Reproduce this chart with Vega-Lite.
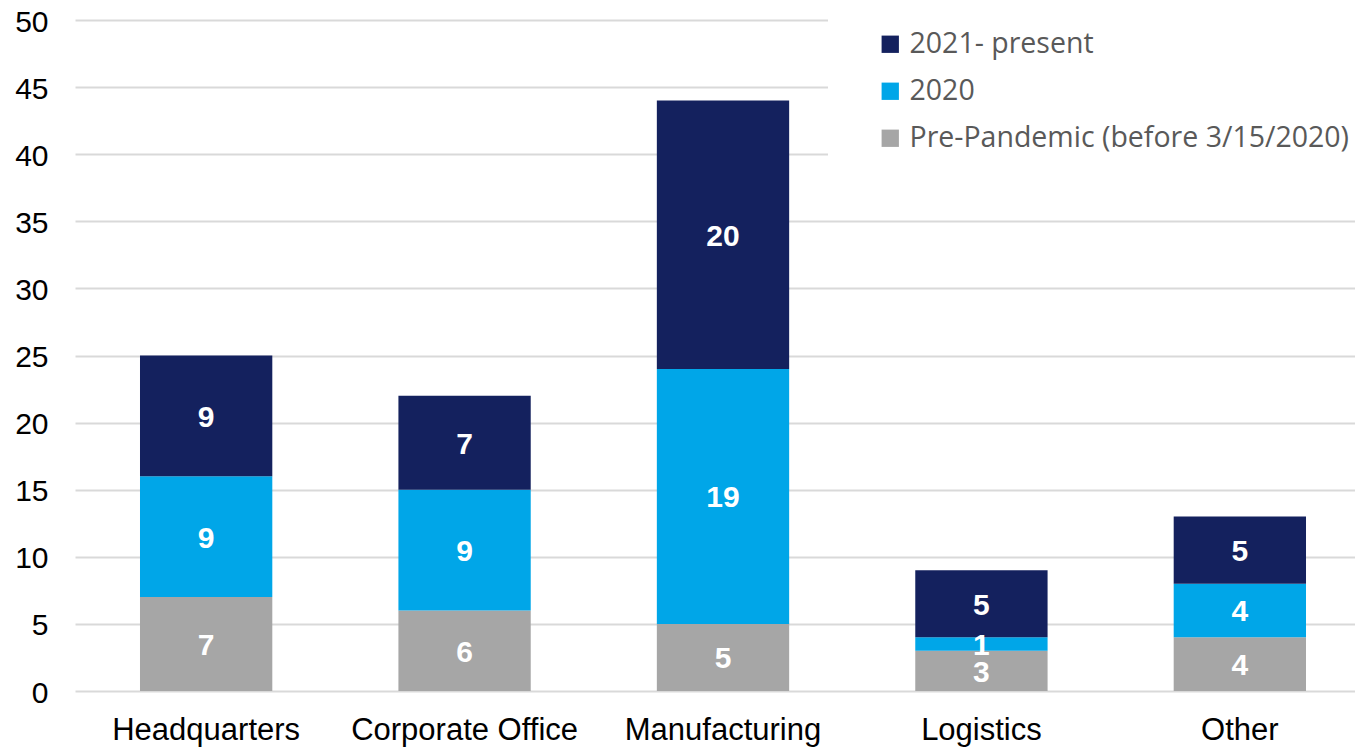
{
  "$schema": "https://vega.github.io/schema/vega-lite/v6.json",
  "autosize": {"type": "none"},
  "padding": {"left": 75, "top": 20, "right": 0, "bottom": 57},
  "width": 1296,
  "height": 671,
  "background": "white",
  "config": {"view": {"stroke": null}},
  "data": {
    "values": [
      {"site": "Headquarters", "period": "Pre-Pandemic (before 3/15/2020)", "seq": 1, "count": 7},
      {"site": "Headquarters", "period": "2020", "seq": 2, "count": 9},
      {"site": "Headquarters", "period": "2021- present", "seq": 3, "count": 9},
      {"site": "Corporate Office", "period": "Pre-Pandemic (before 3/15/2020)", "seq": 1, "count": 6},
      {"site": "Corporate Office", "period": "2020", "seq": 2, "count": 9},
      {"site": "Corporate Office", "period": "2021- present", "seq": 3, "count": 7},
      {"site": "Manufacturing", "period": "Pre-Pandemic (before 3/15/2020)", "seq": 1, "count": 5},
      {"site": "Manufacturing", "period": "2020", "seq": 2, "count": 19},
      {"site": "Manufacturing", "period": "2021- present", "seq": 3, "count": 20},
      {"site": "Logistics", "period": "Pre-Pandemic (before 3/15/2020)", "seq": 1, "count": 3},
      {"site": "Logistics", "period": "2020", "seq": 2, "count": 1},
      {"site": "Logistics", "period": "2021- present", "seq": 3, "count": 5},
      {"site": "Other", "period": "Pre-Pandemic (before 3/15/2020)", "seq": 1, "count": 4},
      {"site": "Other", "period": "2020", "seq": 2, "count": 4},
      {"site": "Other", "period": "2021- present", "seq": 3, "count": 5}
    ]
  },
  "encoding": {
    "x": {
      "field": "site",
      "type": "nominal",
      "sort": ["Headquarters", "Corporate Office", "Manufacturing", "Logistics", "Other"],
      "scale": {"paddingInner": 0.488, "paddingOuter": 0.2515},
      "axis": {
        "title": null,
        "labelAngle": 0,
        "labelFont": "Liberation Sans",
        "labelFontSize": 31,
        "labelColor": "#000000",
        "labelPadding": 24,
        "labelLimit": 400,
        "ticks": false,
        "domain": false,
        "grid": false
      }
    }
  },
  "layer": [
    {
      "mark": {"type": "bar"},
      "encoding": {
        "y": {
          "field": "count",
          "type": "quantitative",
          "stack": "zero",
          "scale": {"domain": [0, 50], "nice": false},
          "axis": {
            "title": null,
            "values": [0, 5, 10, 15, 20, 25, 30, 35, 40, 45, 50],
            "labelFont": "Liberation Sans",
            "labelFontSize": 30,
            "labelColor": "#000000",
            "labelPadding": 27,
            "labelOffset": 2,
            "ticks": false,
            "domain": false,
            "grid": true,
            "gridColor": "#D9D9D9",
            "gridWidth": 2
          }
        },
        "order": {"field": "seq", "type": "quantitative", "sort": "ascending"},
        "color": {
          "field": "period",
          "type": "nominal",
          "scale": {
            "domain": ["2021- present", "2020", "Pre-Pandemic (before 3/15/2020)"],
            "range": ["#14215E", "#00A6E8", "#A6A6A6"]
          },
          "legend": {
            "title": null,
            "orient": "none",
            "legendX": 753,
            "legendY": -38,
            "padding": 48,
            "fillColor": "white",
            "symbolType": "square",
            "symbolSize": 300,
            "symbolStrokeWidth": 0,
            "labelFont": "Open Sans",
            "labelFontSize": 28.5,
            "labelColor": "#595959",
            "labelOffset": 5,
            "labelLimit": 600,
            "rowPadding": 18
          }
        }
      }
    },
    {
      "mark": {
        "type": "text",
        "font": "Liberation Sans",
        "fontWeight": "bold",
        "fontSize": 30,
        "color": "white",
        "baseline": "middle",
        "align": "center",
        "dy": 2
      },
      "encoding": {
        "y": {"field": "count", "type": "quantitative", "stack": "zero", "bandPosition": 0.5},
        "order": {"field": "seq", "type": "quantitative", "sort": "ascending"},
        "detail": {"field": "period"},
        "text": {"field": "count", "type": "quantitative"}
      }
    }
  ]
}
